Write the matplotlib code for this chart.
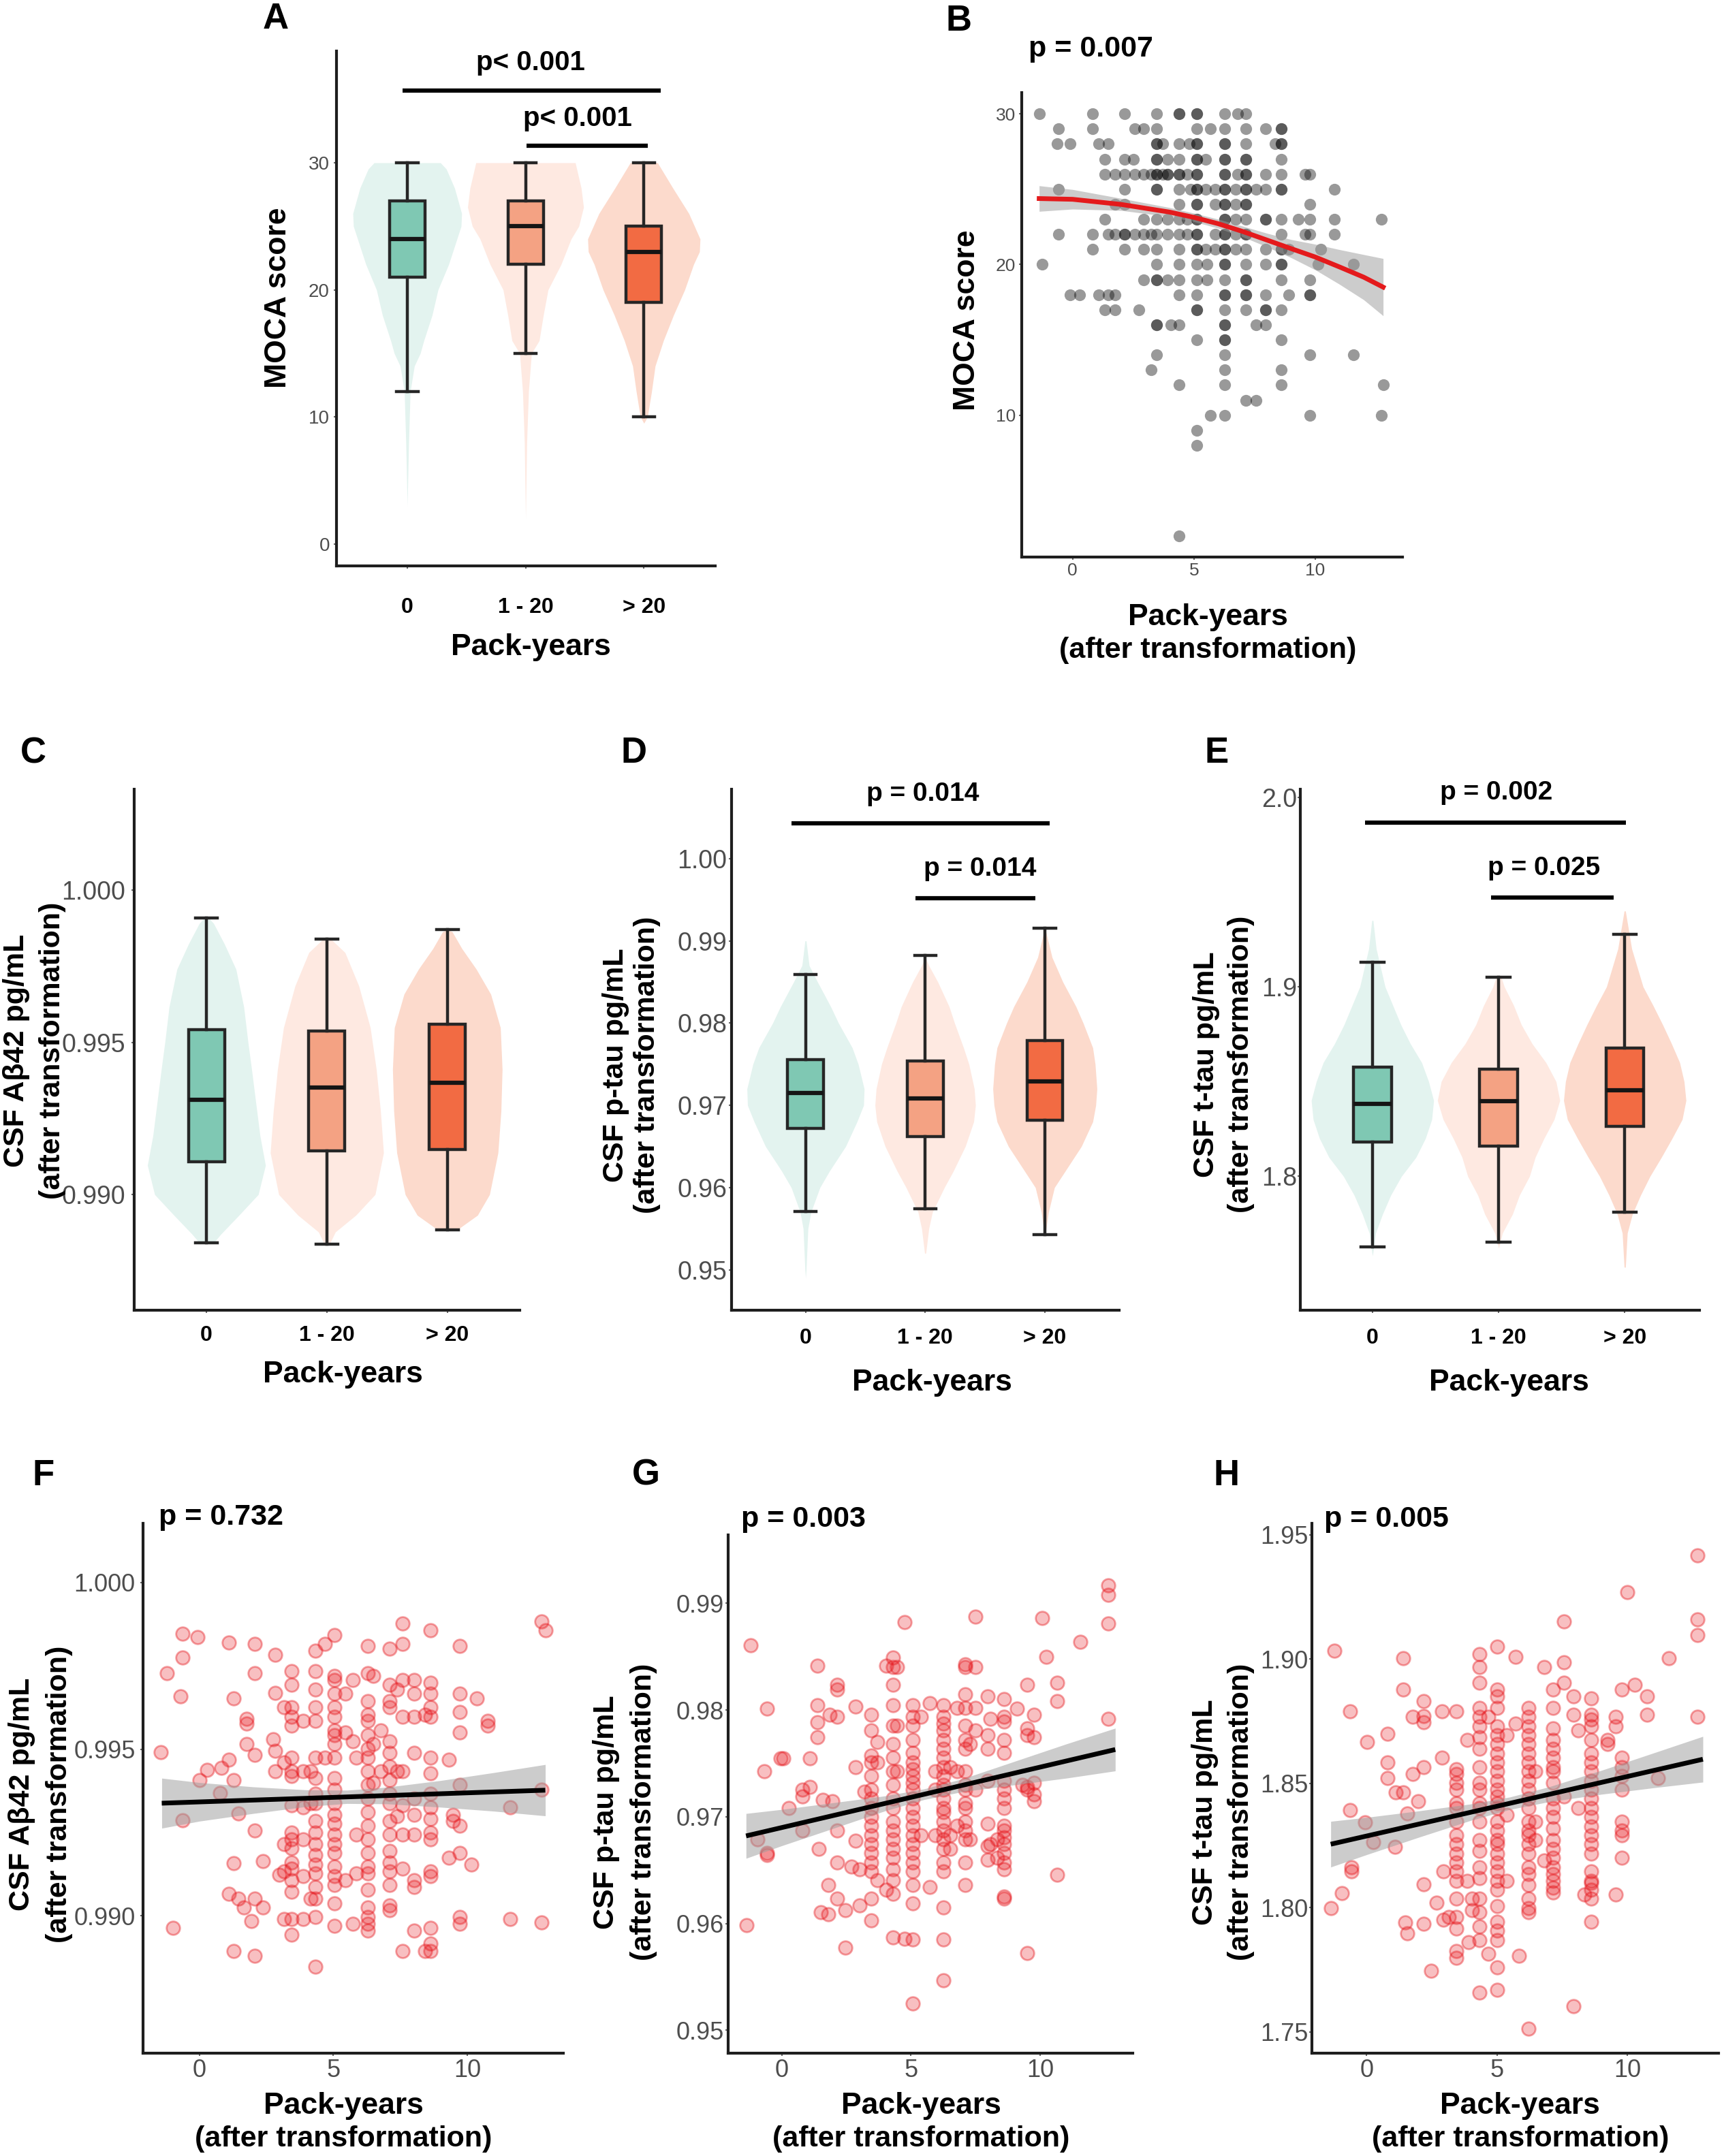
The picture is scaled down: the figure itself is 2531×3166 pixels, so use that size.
import numpy as np
import matplotlib
matplotlib.use('Agg')
import matplotlib.pyplot as plt

plt.rcParams['font.family'] = ['Liberation Sans', 'DejaVu Sans']

# ---------------- data ----------------
CATS = ['0', '1 - 20', '> 20']
VIOL_COLORS = ['#e3f3ef', '#fee9e1', '#fcdacc']
BOX_COLORS = ['#7fc8b3', '#f4a283', '#f26b43']

# Panel A: MOCA score by pack-years group
a_med = [24, 25, 23]
a_q1 = [21, 22, 19]
a_q3 = [27, 27, 25]
a_lo = [12, 15, 10]
a_hi = [30, 30, 30]
a_viol_y = [[3, 8, 12, 14, 15, 16, 18, 20, 22, 24, 25, 26, 28, 29.5, 30],
            [2, 8, 12, 15, 16, 18, 20, 22, 24, 25, 26.5, 28, 30],
            [9.5, 10, 12, 14, 16, 18, 20, 22, 23, 24, 26, 28, 30]]
a_viol_w = [[0, 0.012, 0.025, 0.06, 0.11, 0.14, 0.21, 0.26, 0.35, 0.42, 0.455, 0.46, 0.4, 0.33, 0.28],
            [0, 0.01, 0.025, 0.05, 0.115, 0.15, 0.19, 0.3, 0.385, 0.45, 0.49, 0.47, 0.42],
            [0, 0.03, 0.065, 0.095, 0.165, 0.25, 0.345, 0.42, 0.47, 0.475, 0.38, 0.245, 0.115]]

# Panel B: MOCA score vs pack-years (rows of equal MOCA score)
b_rows = [
    (30, [-1.38, 0.83, 2.15, 3.45, 4.40, 5.11, 6.28, 6.81, 7.15]),
    (29, [-0.58, 0.83, 2.55, 2.92, 3.45, 5.11, 5.67, 6.28, 7.15, 7.96, 8.60]),
    (28, [-0.65, -0.11, 1.08, 1.48, 3.45, 3.72, 4.40, 4.80, 5.11, 6.28, 7.15, 8.36, 8.60]),
    (27, [1.33, 2.15, 2.51, 3.45, 3.92, 4.40, 5.11, 5.47, 6.28, 7.15, 8.60]),
    (26, [1.33, 1.75, 2.15, 2.55, 2.92, 3.25, 3.45, 3.72, 3.92, 4.40, 4.73, 5.11, 6.28, 6.81, 7.15, 7.96, 8.60, 9.57, 9.77]),
    (25, [-0.58, 2.15, 3.45, 4.40, 4.87, 5.11, 5.47, 5.87, 6.28, 6.72, 7.15, 7.55, 7.96, 8.60, 10.78]),
    (24, [1.75, 2.15, 4.40, 5.11, 5.87, 6.28, 6.72, 7.15, 9.77]),
    (23, [1.33, 2.92, 3.45, 3.92, 4.40, 4.73, 5.11, 6.28, 6.72, 7.15, 7.96, 8.60, 9.30, 9.77, 10.78, 12.73]),
    (22, [-0.58, 0.83, 1.48, 1.75, 2.15, 2.55, 2.92, 3.25, 3.45, 3.92, 4.40, 4.73, 5.11, 5.87, 6.28, 6.72, 7.15, 8.60, 9.57, 9.77, 10.78]),
    (21, [0.83, 2.15, 2.92, 3.45, 4.40, 5.11, 5.47, 5.87, 6.28, 6.72, 7.15, 7.96, 8.60, 8.90, 10.24]),
    (20, [-1.25, 3.45, 4.40, 5.11, 5.54, 6.28, 7.15, 7.96, 8.60, 10.11, 11.59]),
    (19, [2.92, 3.45, 3.92, 4.40, 5.11, 5.54, 6.28, 7.15, 8.60, 9.77]),
    (18, [-0.11, 0.30, 1.08, 1.48, 1.75, 4.40, 5.11, 6.28, 7.15, 7.96, 8.90, 9.77]),
    (17, [1.33, 1.75, 2.72, 5.11, 6.28, 7.15, 7.96, 8.60]),
    (16, [3.45, 4.06, 4.40, 6.28, 7.55, 7.96]),
    (15, [5.11, 6.28, 8.60]),
    (14, [3.45, 6.28, 9.77, 11.59]),
    (13, [3.23, 6.28, 8.60]),
    (12, [4.40, 6.28, 8.60, 12.80]),
    (11, [7.15, 7.55]),
    (10, [5.67, 6.28, 9.77, 12.73]),
    (9, [5.11]),
    (8, [5.11]),
    (2, [4.40]),
]
# repeated observations (darker overlapping dots)
b_repeat = [
    (30, [4.40, 5.11]), (29, [8.60]), (28, [3.45, 5.11, 6.28, 8.60]),
    (27, [3.45, 5.11, 6.28, 7.15]), (26, [3.45, 3.92, 4.40, 5.11, 6.28, 7.15]),
    (25, [3.45, 5.11, 6.28, 7.15, 8.60]), (24, [5.11, 6.28, 7.15]),
    (23, [5.11, 6.28, 7.96]), (22, [2.15, 5.11, 6.28, 7.15]), (21, [5.11, 6.28, 8.60]),
    (20, [6.28, 8.60]), (19, [3.45, 7.15]), (18, [6.28, 7.15, 9.77]),
    (17, [5.11, 7.96]), (16, [3.45, 6.28]), (15, [6.28]),
]
b_fit_x = [-1.38, 0, 2, 4, 5, 6, 7, 8, 9, 10, 11, 12, 12.8]
b_fit_y = [24.38, 24.33, 23.99, 23.48, 23.13, 22.71, 22.20, 21.63, 21.06, 20.50, 19.84, 19.16, 18.50]
b_band_lo = [23.53, 23.68, 23.59, 23.18, 22.85, 22.41, 21.85, 21.18, 20.46, 19.65, 18.69, 17.66, 16.60]
b_band_hi = [25.23, 24.98, 24.39, 23.78, 23.41, 23.01, 22.55, 22.08, 21.66, 21.35, 20.99, 20.66, 20.40]

# Panel C: CSF Abeta42
c_med = [0.99311, 0.99352, 0.99367]
c_q1 = [0.99107, 0.99144, 0.99148]
c_q3 = [0.99541, 0.99538, 0.99559]
c_lo = [0.98842, 0.98836, 0.98884]
c_hi = [0.99908, 0.99838, 0.99870]
c_viol_y = [[0.98842, 0.98870, 0.98932, 0.99000, 0.99096, 0.99192, 0.99301, 0.99411, 0.99500, 0.99616, 0.99740, 0.99822, 0.99890, 0.99908],
            [0.98836, 0.98877, 0.98932, 0.99000, 0.99137, 0.99274, 0.99411, 0.99548, 0.99685, 0.99795, 0.99836],
            [0.98884, 0.98932, 0.99000, 0.99137, 0.99274, 0.99411, 0.99548, 0.99658, 0.99740, 0.99808, 0.99863, 0.99870]]
c_viol_w = [[0.06, 0.12, 0.27, 0.43, 0.49, 0.445, 0.41, 0.375, 0.345, 0.31, 0.245, 0.15, 0.06, 0.02],
            [0.02, 0.07, 0.24, 0.40, 0.47, 0.445, 0.41, 0.36, 0.265, 0.15, 0.04],
            [0.08, 0.25, 0.35, 0.42, 0.445, 0.455, 0.44, 0.36, 0.24, 0.12, 0.04, 0.0]]

# Panel D: CSF p-tau
d_med = [0.97152, 0.97086, 0.97289]
d_q1 = [0.96721, 0.96619, 0.96822]
d_q3 = [0.97558, 0.97543, 0.97787]
d_lo = [0.95706, 0.95741, 0.95426]
d_hi = [0.98589, 0.98827, 0.99157]
d_viol_y = [[0.949, 0.950, 0.955, 0.957, 0.960, 0.962, 0.965, 0.968, 0.970, 0.972, 0.975, 0.977, 0.980, 0.982, 0.985, 0.987, 0.990],
            [0.952, 0.955, 0.957, 0.960, 0.962, 0.965, 0.968, 0.970, 0.972, 0.975, 0.977, 0.980, 0.982, 0.985, 0.987, 0.988],
            [0.9545, 0.955, 0.957, 0.960, 0.962, 0.965, 0.968, 0.970, 0.972, 0.975, 0.977, 0.980, 0.982, 0.985, 0.988, 0.991, 0.9915]]
d_viol_w = [[0, 0.005, 0.02, 0.045, 0.12, 0.2, 0.335, 0.43, 0.485, 0.49, 0.44, 0.39, 0.275, 0.21, 0.1, 0.03, 0.005],
            [0.005, 0.03, 0.06, 0.16, 0.235, 0.335, 0.405, 0.42, 0.41, 0.365, 0.32, 0.245, 0.2, 0.105, 0.03, 0.0],
            [0.005, 0.01, 0.03, 0.08, 0.17, 0.305, 0.40, 0.425, 0.435, 0.42, 0.40, 0.32, 0.26, 0.15, 0.06, 0.01, 0.0]]

# Panel E: CSF t-tau
e_med = [1.8381, 1.8398, 1.8454]
e_q1 = [1.8181, 1.8159, 1.8265]
e_q3 = [1.8575, 1.8564, 1.8675]
e_lo = [1.7628, 1.7653, 1.7812]
e_hi = [1.9128, 1.9051, 1.9277]
e_viol_y = [[1.758, 1.760, 1.770, 1.780, 1.790, 1.800, 1.810, 1.820, 1.830, 1.840, 1.850, 1.860, 1.870, 1.880, 1.900, 1.920, 1.935],
            [1.762, 1.770, 1.780, 1.790, 1.800, 1.810, 1.820, 1.830, 1.840, 1.850, 1.860, 1.870, 1.880, 1.890, 1.900, 1.905],
            [1.752, 1.770, 1.780, 1.790, 1.800, 1.810, 1.820, 1.830, 1.840, 1.850, 1.860, 1.870, 1.880, 1.890, 1.900, 1.920, 1.940]]
e_viol_w = [[0, 0.005, 0.025, 0.08, 0.145, 0.23, 0.345, 0.42, 0.47, 0.485, 0.445, 0.39, 0.3, 0.225, 0.1, 0.03, 0.005],
            [0, 0.03, 0.11, 0.165, 0.245, 0.29, 0.36, 0.44, 0.485, 0.455, 0.375, 0.265, 0.18, 0.12, 0.045, 0.02],
            [0.005, 0.02, 0.06, 0.125, 0.2, 0.29, 0.375, 0.455, 0.485, 0.47, 0.435, 0.37, 0.3, 0.225, 0.145, 0.055, 0.005]]

# Panel F: CSF Abeta42 vs pack-years (columns of equal pack-years)
f_cols = [
    (-1.45, [0.99491]), (-1.21, [0.99727]), (-0.97, [0.98963]), (-0.69, [0.99659]),
    (-0.62, [0.99775, 0.99846, 0.99287]), (-0.07, [0.99836]), (0.00, [0.99407]), (0.28, [0.99437]),
    (0.76, [0.99368]), (0.83, [0.99445]), (1.10, [0.99468, 0.99819, 0.99066]),
    (1.27, [0.99652, 0.99407, 0.99158, 0.98895]), (1.45, [0.99052, 0.99308]), (1.66, [0.99025]),
    (1.77, [0.99591, 0.99577, 0.99516]), (1.93, [0.98984]),
    (2.07, [0.99816, 0.99727, 0.99482, 0.99257, 0.99052, 0.98881]), (2.37, [0.99164, 0.99025]),
    (2.76, [0.99529]), (2.83, [0.99784, 0.99669, 0.99495, 0.99434]), (2.97, [0.99123]),
    (3.17, [0.99625, 0.99461, 0.99216, 0.99134, 0.98990]),
    (3.45, [0.99734, 0.99693, 0.99625, 0.99598, 0.99570, 0.99475, 0.99434, 0.99420, 0.99332, 0.99250,
            0.99229, 0.99202, 0.99161, 0.99141, 0.99107, 0.99072, 0.98990, 0.98943]),
    (3.86, [0.99584, 0.99434, 0.99325, 0.99229, 0.99120, 0.98990]),
    (4.14, [0.99434, 0.99338, 0.99052]),
    (4.34, [0.99795, 0.99734, 0.99679, 0.99625, 0.99584, 0.99475, 0.99413, 0.99366, 0.99338, 0.99284,
            0.99250, 0.99216, 0.99182, 0.99154, 0.99127, 0.99086, 0.99052, 0.98997, 0.98847]),
    (4.69, [0.99816, 0.99475]),
    (5.03, [0.99843, 0.99720, 0.99707, 0.99666, 0.99625, 0.99598, 0.99557, 0.99543, 0.99516, 0.99475,
            0.99413, 0.99379, 0.99338, 0.99304, 0.99277, 0.99243, 0.99216, 0.99188, 0.99148, 0.99120,
            0.99093, 0.99038, 0.98970]),
    (5.45, [0.99666, 0.99550, 0.99107]), (5.72, [0.99707, 0.99523, 0.98977]),
    (5.86, [0.99475, 0.99243, 0.99127]),
    (6.28, [0.99809, 0.99727, 0.99645, 0.99604, 0.99584, 0.99543, 0.99502, 0.99475, 0.99434, 0.99393,
            0.99352, 0.99311, 0.99270, 0.99229, 0.99188, 0.99148, 0.99127, 0.99079, 0.99025, 0.98997,
            0.98977, 0.98956]),
    (6.48, [0.99720, 0.99516, 0.99400]), (6.76, [0.99557, 0.99434]),
    (7.10, [0.99802, 0.99693, 0.99645, 0.99625, 0.99523, 0.99489, 0.99448, 0.99407, 0.99366, 0.99338,
            0.99284, 0.99243, 0.99195, 0.99161, 0.99134, 0.99093, 0.99032, 0.99018]),
    (7.38, [0.99679, 0.99434, 0.99298]),
    (7.59, [0.99877, 0.99816, 0.99707, 0.99598, 0.99434, 0.99332, 0.99243, 0.99141, 0.98895]),
    (8.00, [0.99707, 0.99666, 0.99598, 0.99489, 0.99352, 0.99304, 0.99243, 0.99107, 0.99086, 0.98956]),
    (8.41, [0.99604, 0.98895]),
    (8.62, [0.99857, 0.99700, 0.99666, 0.99625, 0.99598, 0.99475, 0.99427, 0.99366, 0.99325, 0.99291,
            0.99250, 0.99229, 0.99134, 0.99120, 0.98963, 0.98916, 0.98895]),
    (9.31, [0.99468, 0.99175]), (9.45, [0.99304, 0.99284]),
    (9.72, [0.99809, 0.99666, 0.99611, 0.99550, 0.99393, 0.99270, 0.99188, 0.98997, 0.98977]),
    (10.14, [0.99154]), (10.34, [0.99652]), (10.76, [0.99584, 0.99570]), (11.59, [0.99325, 0.98990]),
    (12.76, [0.99884, 0.99379, 0.98981]), (12.90, [0.99857]),
]
f_fit_x = [-1.4, 12.9]
f_fit_y = [0.99338, 0.99377]
f_band_x = [-1.4, 0, 2, 4, 5.5, 7, 9, 11, 12.9]
f_band_lo = [0.99263, 0.99284, 0.99307, 0.99328, 0.99337, 0.99336, 0.99326, 0.99314, 0.99300]
f_band_hi = [0.99413, 0.99400, 0.99387, 0.99378, 0.99377, 0.99386, 0.99406, 0.99430, 0.99454]

# Panel G: CSF p-tau vs pack-years
g_cols = [
    (-1.35, [0.95987]), (-1.21, [0.98609]), (-0.93, [0.96787]), (-0.68, [0.97426]),
    (-0.56, [0.98013, 0.96660, 0.96640]), (-0.04, [0.97545]), (0.06, [0.97545]), (0.28, [0.97085]),
    (0.80, [0.97255, 0.97191, 0.96872]), (1.08, [0.97277, 0.97545]),
    (1.37, [0.98413, 0.98043, 0.97885, 0.97745]), (1.44, [0.96702]), (1.51, [0.96106]), (1.58, [0.97162]),
    (1.79, [0.96085, 0.96362]), (1.86, [0.97957]), (1.97, [0.97149]),
    (2.14, [0.98234, 0.98191, 0.97936, 0.96574, 0.96234, 0.96872]), (2.45, [0.95774, 0.96128]),
    (2.70, [0.96532]), (2.85, [0.98030, 0.97468, 0.96779]), (3.00, [0.96170, 0.96511]), (3.20, [0.97234]),
    (3.45, [0.97957, 0.97809, 0.97574, 0.97511, 0.97383, 0.97255, 0.97170, 0.97085, 0.97000, 0.96915,
            0.96830, 0.96745, 0.96660, 0.96574, 0.96489, 0.96234, 0.96030]),
    (3.69, [0.97702, 0.97511, 0.96404]), (4.04, [0.98413, 0.96319]),
    (4.30, [0.98489, 0.98404, 0.98234, 0.98043, 0.97851, 0.97681, 0.97553, 0.97426, 0.97298, 0.97170,
            0.97085, 0.96957, 0.96872, 0.96787, 0.96702, 0.96617, 0.96511, 0.96404, 0.96277, 0.95872]),
    (4.46, [0.98404, 0.97851, 0.97426]), (4.75, [0.98821, 0.95860]),
    (5.07, [0.98043, 0.97936, 0.97851, 0.97723, 0.97596, 0.97511, 0.97447, 0.97383, 0.97319, 0.97255,
            0.97170, 0.97085, 0.97000, 0.96915, 0.96830, 0.96745, 0.96660, 0.96574, 0.96489, 0.96362,
            0.96191, 0.95851, 0.95255]),
    (5.38, [0.97936, 0.96830]), (5.73, [0.98064, 0.96340]), (5.94, [0.97426, 0.97255, 0.96830]),
    (6.25, [0.98043, 0.97936, 0.97872, 0.97809, 0.97723, 0.97638, 0.97553, 0.97468, 0.97383, 0.97298,
            0.97255, 0.97170, 0.97085, 0.97043, 0.96957, 0.96872, 0.96787, 0.96702, 0.96574, 0.96489,
            0.96149, 0.95851, 0.95468]),
    (6.51, [0.97468, 0.96830, 0.96702]), (6.79, [0.98021, 0.97426, 0.96915]),
    (7.10, [0.98426, 0.98404, 0.98149, 0.98021, 0.97851, 0.97723, 0.97638, 0.97426, 0.97298, 0.97255,
            0.97128, 0.97085, 0.96957, 0.96872, 0.96787, 0.96574, 0.96362]),
    (7.28, [0.97681, 0.96787]), (7.49, [0.98872, 0.98404, 0.98021, 0.97809, 0.97255]),
    (7.96, [0.98128, 0.97766, 0.97638, 0.97340, 0.96936, 0.96723, 0.96596]),
    (8.06, [0.97915, 0.96745]), (8.34, [0.96787, 0.96617]),
    (8.60, [0.98106, 0.97936, 0.97894, 0.97723, 0.97596, 0.97340, 0.97255, 0.97170, 0.97085, 0.96915,
            0.96872, 0.96809, 0.96745, 0.96660, 0.96574, 0.96511, 0.96255, 0.96234]),
    (9.11, [0.98013]), (9.32, [0.97298]),
    (9.49, [0.98234, 0.97830, 0.97766, 0.97277, 0.97255, 0.95723]),
    (9.75, [0.97957, 0.97745, 0.97319, 0.97213, 0.97149]),
    (10.06, [0.98864]), (10.24, [0.98498]), (10.66, [0.98255, 0.98085, 0.96455]), (11.55, [0.98638]),
    (12.63, [0.99170, 0.99077, 0.98809, 0.97915]),
]
g_fit_x = [-1.38, 12.9]
g_fit_y = [0.96821, 0.97630]
g_band_x = [-1.38, 0, 2, 4, 5.5, 7, 9, 11, 12.9]
g_band_lo = [0.96611, 0.96729, 0.96892, 0.97056, 0.97161, 0.97236, 0.97299, 0.97362, 0.97430]
g_band_hi = [0.97031, 0.97069, 0.97132, 0.97196, 0.97261, 0.97356, 0.97519, 0.97682, 0.97830]

# Panel H: CSF t-tau vs pack-years
h_cols = [
    (-1.37, [1.7998]), (-1.23, [1.9033]), (-0.95, [1.8057]), (-0.65, [1.8789, 1.8392]),
    (-0.58, [1.8163, 1.8145]), (-0.07, [1.8342]), (0.01, [1.8667]), (0.26, [1.8264]),
    (0.80, [1.8700, 1.8584, 1.8520]), (1.08, [1.8245]), (1.12, [1.8465]),
    (1.40, [1.9005, 1.8877, 1.8465]), (1.49, [1.7940]), (1.56, [1.7897, 1.8379]),
    (1.77, [1.8767, 1.8538]), (1.98, [1.8429]),
    (2.19, [1.8832, 1.8771, 1.8745, 1.8566, 1.8093, 1.7934]), (2.46, [1.7745]), (2.67, [1.8020]),
    (2.88, [1.8789, 1.8603]), (2.95, [1.7952, 1.8145]), (3.15, [1.7962]),
    (3.44, [1.8789, 1.8557, 1.8538, 1.8502, 1.8474, 1.8419, 1.8401, 1.8346, 1.8291, 1.8255,
            1.8218, 1.8181, 1.8145, 1.8108, 1.8035, 1.7962, 1.7916, 1.7824, 1.7797]),
    (3.85, [1.8676, 1.8108]), (3.91, [1.7861]), (4.05, [1.8035, 1.7989]),
    (4.33, [1.9020, 1.8969, 1.8905, 1.8804, 1.8767, 1.8731, 1.8685, 1.8639, 1.8566, 1.8502,
            1.8474, 1.8419, 1.8401, 1.8346, 1.8273, 1.8227, 1.8163, 1.8117, 1.8035, 1.7980,
            1.7925, 1.7870, 1.7659]),
    (4.67, [1.8767, 1.7815]),
    (5.02, [1.9051, 1.8877, 1.8850, 1.8804, 1.8731, 1.8694, 1.8658, 1.8621, 1.8584, 1.8548,
            1.8511, 1.8474, 1.8447, 1.8419, 1.8401, 1.8346, 1.8310, 1.8273, 1.8255, 1.8218,
            1.8181, 1.8145, 1.8108, 1.8071, 1.8007, 1.7943, 1.7907, 1.7870, 1.7760, 1.7668]),
    (5.37, [1.8694, 1.8374, 1.8108]), (5.71, [1.9009, 1.8740]), (5.85, [1.7806]),
    (6.20, [1.8804, 1.8767, 1.8731, 1.8694, 1.8658, 1.8621, 1.8584, 1.8548, 1.8511, 1.8474,
            1.8438, 1.8401, 1.8346, 1.8310, 1.8291, 1.8255, 1.8218, 1.8163, 1.8136, 1.8090,
            1.8035, 1.7998, 1.7980, 1.7513]),
    (6.47, [1.8548, 1.8346, 1.8273]), (6.82, [1.8969, 1.8190]),
    (7.16, [1.8877, 1.8804, 1.8722, 1.8676, 1.8639, 1.8603, 1.8566, 1.8548, 1.8502, 1.8438,
            1.8401, 1.8364, 1.8319, 1.8273, 1.8236, 1.8200, 1.8163, 1.8136, 1.8108, 1.8081, 1.8062]),
    (7.58, [1.9152, 1.8987, 1.8905, 1.8447]), (7.93, [1.8850, 1.8777, 1.7604]),
    (8.13, [1.8712, 1.8401]), (8.34, [1.8053]),
    (8.62, [1.8841, 1.8777, 1.8758, 1.8731, 1.8676, 1.8621, 1.8584, 1.8548, 1.8511, 1.8474,
            1.8438, 1.8401, 1.8364, 1.8328, 1.8291, 1.8255, 1.8218, 1.8145, 1.8108, 1.8099,
            1.8071, 1.8035, 1.7943]),
    (9.24, [1.8676, 1.8658]), (9.56, [1.8767, 1.8731, 1.8053]),
    (9.79, [1.8877, 1.8603, 1.8566, 1.8529, 1.8474, 1.8346, 1.8310, 1.8291, 1.8200]),
    (10.00, [1.9271]), (10.28, [1.8896]), (10.76, [1.8850, 1.8777]), (11.18, [1.8520]),
    (11.59, [1.9005]), (12.70, [1.9418, 1.9161, 1.9097, 1.8767]),
]
h_fit_x = [-1.38, 12.9]
h_fit_y = [1.8255, 1.8597]
h_band_x = [-1.38, 0, 2, 4, 5.5, 7, 9, 11, 12.9]
h_band_lo = [1.8163, 1.8213, 1.8283, 1.8351, 1.8395, 1.8426, 1.8456, 1.8482, 1.8505]
h_band_hi = [1.8347, 1.8363, 1.8389, 1.8417, 1.8445, 1.8486, 1.8552, 1.8622, 1.8689]

# ---------------- figure ----------------
W, H = 1254.0, 1568.0
fig = plt.figure(figsize=(25.31, 31.66), dpi=100)

SPINE = '#1e1e1e'
TICKC = '#4d4d4d'
EDGE = '#262626'


def add_ax(l, t, r, b):
    return fig.add_axes([l / W, 1 - b / H, (r - l) / W, (b - t) / H])


def ftext(x, y, s, **kw):
    kw.setdefault('ha', 'center')
    kw.setdefault('va', 'center')
    kw.setdefault('fontweight', 'bold')
    fig.text(x / W, 1 - y / H, s, **kw)


def style(ax, ysize, ypad, xsize, xpad, xbold):
    for s in ['top', 'right']:
        ax.spines[s].set_visible(False)
    for s in ['left', 'bottom']:
        ax.spines[s].set_linewidth(3)
        ax.spines[s].set_color(SPINE)
    ax.tick_params(axis='y', length=3, width=1.5, color='#666666', labelcolor=TICKC,
                   labelsize=ysize, pad=ypad)
    ax.tick_params(axis='x', length=3, width=1.5, color='#666666',
                   labelcolor='black' if xbold else TICKC, labelsize=xsize, pad=xpad)
    if xbold:
        for lab in ax.get_xticklabels():
            lab.set_fontweight('bold')
    ax.patch.set_alpha(0)


def box_panel(ax, vy, vw, med, q1, q3, lo, hi):
    for i in range(3):
        y = np.array(vy[i])
        w = np.array(vw[i])
        ax.fill_betweenx(y, i - w, i + w, color=VIOL_COLORS[i], lw=0, zorder=1)
    stats = [dict(med=med[i], q1=q1[i], q3=q3[i], whislo=lo[i], whishi=hi[i], fliers=[])
             for i in range(3)]
    bp = ax.bxp(stats, positions=[0, 1, 2], widths=0.3, capwidths=0.18, patch_artist=True,
                showfliers=False, manage_ticks=False,
                boxprops=dict(linewidth=3.2, edgecolor=EDGE),
                whiskerprops=dict(linewidth=3.2, color=EDGE),
                capprops=dict(linewidth=3.2, color=EDGE),
                medianprops=dict(linewidth=4.5, color='#151515'))
    for patch, c in zip(bp['boxes'], BOX_COLORS):
        patch.set_facecolor(c)
        patch.set_zorder(2)
    ax.set_xticks([0, 1, 2])
    ax.set_xticklabels(CATS)


def sig(ax, x0, x1, y, label, tx, ty, size):
    ax.plot([x0, x1], [y, y], color='black', lw=4.5, solid_capstyle='butt', zorder=5, clip_on=False)
    ax.text(tx, ty, label, ha='center', va='center', fontsize=size, fontweight='bold', zorder=5)


def scatter_panel(ax, cols, fx, fy, bx, blo, bhi):
    xs = [x for x, ys in cols for _ in ys]
    ys = [y for _, yl in cols for y in yl]
    ax.scatter(xs, ys, s=200, facecolor=(0.90, 0.08, 0.10, 0.27),
               edgecolor=(0.90, 0.08, 0.10, 0.40), linewidth=2, zorder=2)
    ax.fill_between(bx, blo, bhi, color='#9a9a9a', alpha=0.5, lw=0, zorder=3)
    ax.plot(fx, fy, color='black', lw=5, zorder=4, solid_capstyle='butt')


# ---- A ----
axA = add_ax(244.6, 37, 520, 411.8)
box_panel(axA, a_viol_y, a_viol_w, a_med, a_q1, a_q3, a_lo, a_hi)
axA.set_xlim(-0.6, 2.6)
axA.set_ylim(-1.75, 38.8)
axA.set_yticks([0, 10, 20, 30])
style(axA, 20, 4, 23, 30, True)
sig(axA, -0.04, 2.14, 35.7, 'p< 0.001', 1.04, 37.9, 29)
sig(axA, 1.01, 2.03, 31.35, 'p< 0.001', 1.44, 33.5, 29)

# ---- B ----
axB = add_ax(743, 67.5, 1020, 404.9)
bx = [x for y, xl in b_rows for x in xl] + [x for y, xl in b_repeat for x in xl]
by = [y for y, xl in b_rows for _ in xl] + [y for y, xl in b_repeat for _ in xl]
axB.scatter(bx, by, s=155, color='black', alpha=0.40, lw=0, zorder=2)
axB.fill_between(b_fit_x, b_band_lo, b_band_hi, color='#9a9a9a', alpha=0.5, lw=0, zorder=3)
axB.plot(b_fit_x, b_fit_y, color='#e41a1c', lw=5, zorder=4)
axB.set_xlim(-2.11, 13.59)
axB.set_ylim(0.6, 31.4)
axB.set_xticks([0, 5, 10])
axB.set_yticks([10, 20, 30])
style(axB, 19, 3, 19, 3, False)

# ---- C ----
axC = add_ax(97.6, 573.8, 378, 952.9)
box_panel(axC, c_viol_y, c_viol_w, c_med, c_q1, c_q3, c_lo, c_hi)
axC.set_xlim(-0.6, 2.6)
axC.set_ylim(0.9862, 1.00332)
axC.set_yticks([0.990, 0.995, 1.000])
axC.set_yticklabels(['0.990', '0.995', '1.000'])
style(axC, 27, 6, 23, 13, True)

# ---- D ----
axD = add_ax(532, 573.8, 814, 952.9)
box_panel(axD, d_viol_y, d_viol_w, d_med, d_q1, d_q3, d_lo, d_hi)
axD.set_xlim(-0.62, 2.62)
axD.set_ylim(0.94507, 1.00848)
axD.set_yticks([0.95, 0.96, 0.97, 0.98, 0.99, 1.00])
axD.set_yticklabels(['0.95', '0.96', '0.97', '0.98', '0.99', '1.00'])
style(axD, 27, 1.5, 23, 16, True)
sig(axD, -0.12, 2.04, 1.0043, 'p = 0.014', 0.98, 1.00786, 28)
sig(axD, 0.92, 1.92, 0.99517, 'p = 0.014', 1.46, 0.99873, 28)

# ---- E ----
axE = add_ax(946, 573.8, 1236, 952.9)
box_panel(axE, e_viol_y, e_viol_w, e_med, e_q1, e_q3, e_lo, e_hi)
axE.set_xlim(-0.57, 2.59)
axE.set_ylim(1.7293, 2.0044)
axE.set_yticks([1.8, 1.9, 2.0])
axE.set_yticklabels(['1.8', '1.9', '2.0'])
style(axE, 27, 1, 23, 16, True)
sig(axE, -0.06, 2.01, 1.9868, 'p = 0.002', 0.98, 2.0023, 28)
sig(axE, 0.94, 1.91, 1.947, 'p = 0.025', 1.36, 1.9625, 28)

# ---- F ----
axF = add_ax(104, 1108, 409.7, 1493)
scatter_panel(axF, f_cols, f_fit_x, f_fit_y, f_band_x, f_band_lo, f_band_hi)
axF.set_xlim(-2.1, 13.57)
axF.set_ylim(0.98589, 1.00177)
axF.set_xticks([0, 5, 10])
axF.set_yticks([0.990, 0.995, 1.000])
axF.set_yticklabels(['0.990', '0.995', '1.000'])
style(axF, 26, 5, 26, 3, False)

# ---- G ----
axG = add_ax(529.5, 1116.4, 824, 1493)
scatter_panel(axG, g_cols, g_fit_x, g_fit_y, g_band_x, g_band_lo, g_band_hi)
axG.set_xlim(-2.08, 13.58)
axG.set_ylim(0.94789, 0.99639)
axG.set_xticks([0, 5, 10])
axG.set_yticks([0.95, 0.96, 0.97, 0.98, 0.99])
axG.set_yticklabels(['0.95', '0.96', '0.97', '0.98', '0.99'])
style(axG, 26, 1, 26, 3, False)

# ---- H ----
axH = add_ax(954.3, 1108, 1250, 1493)
scatter_panel(axH, h_cols, h_fit_x, h_fit_y, h_band_x, h_band_lo, h_band_hi)
axH.set_xlim(-2.1, 13.5)
axH.set_ylim(1.7415, 1.9546)
axH.set_xticks([0, 5, 10])
axH.set_yticks([1.75, 1.80, 1.85, 1.90, 1.95])
axH.set_yticklabels(['1.75', '1.80', '1.85', '1.90', '1.95'])
style(axH, 26, 1, 26, 3, False)

# ---------------- texts ----------------
for letter, x, y in [('A', 200.6, 14), ('B', 697.5, 15.5), ('C', 24, 548), ('D', 461, 548),
                     ('E', 885, 548), ('F', 31.5, 1073.4), ('G', 470, 1073), ('H', 892, 1073)]:
    ftext(x, y, letter, fontsize=38)

ftext(748, 35.6, 'p = 0.007', fontsize=31, ha='left')
ftext(115.5, 1103.5, 'p = 0.732', fontsize=31, ha='left')
ftext(539.3, 1104.8, 'p = 0.003', fontsize=31, ha='left')
ftext(963, 1104.8, 'p = 0.005', fontsize=31, ha='left')

XL = 32
ftext(386, 470.6, 'Pack-years', fontsize=XL)
ftext(878.7, 449, 'Pack-years', fontsize=XL)
ftext(878.7, 473, '(after transformation)', fontsize=31)
ftext(249.5, 999.9, 'Pack-years', fontsize=XL)
ftext(678, 1005.7, 'Pack-years', fontsize=XL)
ftext(1097.9, 1005.7, 'Pack-years', fontsize=XL)
for x in [250, 670, 1105.8]:
    ftext(x, 1531.7, 'Pack-years', fontsize=XL)
    ftext(x, 1555.6, '(after transformation)', fontsize=31)

YL = 31
ftext(202.6, 216.8, 'MOCA score', fontsize=32, rotation=90)
ftext(703.2, 233, 'MOCA score', fontsize=32, rotation=90)
for (x1, x2, yc, l1) in [(12, 38, 764, 'CSF Aβ42 pg/mL'),
                         (447.9, 470.7, 774.7, 'CSF p-tau pg/mL'),
                         (877.6, 902.6, 774, 'CSF t-tau pg/mL'),
                         (16.1, 43, 1304.8, 'CSF Aβ42 pg/mL'),
                         (441.2, 468, 1318, 'CSF p-tau pg/mL'),
                         (876.3, 902.6, 1318, 'CSF t-tau pg/mL')]:
    ftext(x1, yc, l1, fontsize=YL, rotation=90)
    ftext(x2, yc, '(after transformation)', fontsize=YL, rotation=90)

fig.savefig('out.png', dpi=100, facecolor='white')
